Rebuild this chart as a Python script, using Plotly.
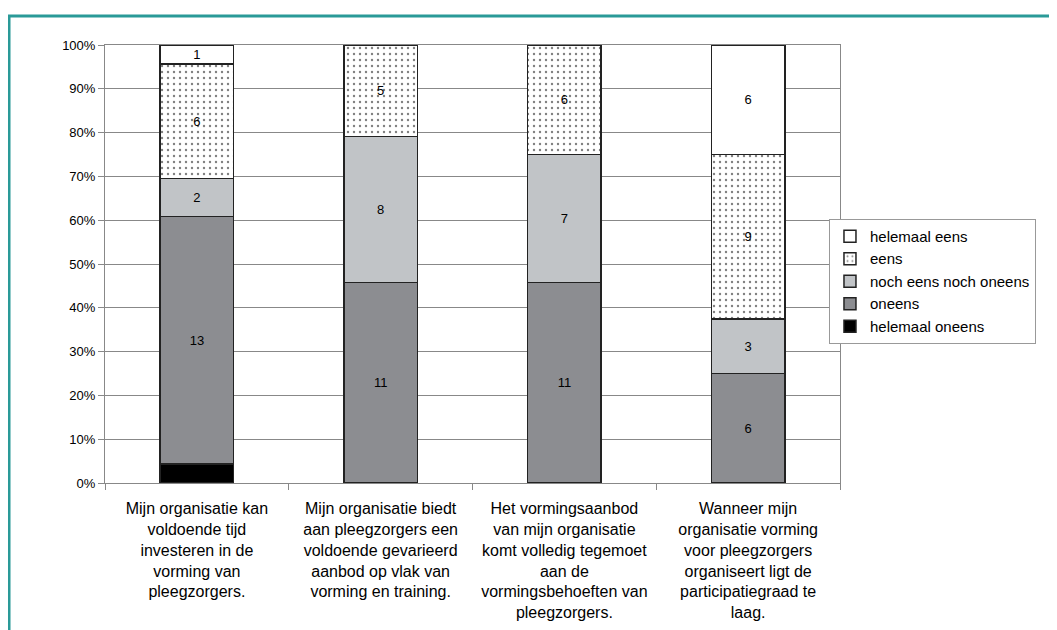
import plotly.graph_objects as go

# Statements (x-axis categories)
statements = [
    "Mijn organisatie kan<br>voldoende tijd<br>investeren in de<br>vorming van<br>pleegzorgers.",
    "Mijn organisatie biedt<br>aan pleegzorgers een<br>voldoende gevarieerd<br>aanbod op vlak van<br>vorming en training.",
    "Het vormingsaanbod<br>van mijn organisatie<br>komt volledig tegemoet<br>aan de<br>vormingsbehoeften van<br>pleegzorgers.",
    "Wanneer mijn<br>organisatie vorming<br>voor pleegzorgers<br>organiseert ligt de<br>participatiegraad te<br>laag.",
]

# Counts per answer category (bottom to top of the stack)
helemaal_oneens = [1, 0, 0, 0]
oneens = [13, 11, 11, 6]
noch = [2, 8, 7, 3]
eens = [6, 5, 6, 9]
helemaal_eens = [1, 0, 0, 6]

series = [
    ("helemaal oneens", helemaal_oneens, dict(color="#000000")),
    ("oneens", oneens, dict(color="#8c8d91")),
    ("noch eens noch oneens", noch, dict(color="#c1c4c7")),
    ("eens", eens, dict(color="#ffffff",
                        pattern=dict(shape=".", fgcolor="#000000", bgcolor="#ffffff",
                                     size=6, solidity=0.12))),
    ("helemaal eens", helemaal_eens, dict(color="#ffffff")),
]

fig = go.Figure()
for name, vals, style in series:
    fig.add_trace(go.Bar(
        name=name,
        x=statements,
        y=vals,
        text=[str(v) if v else "" for v in vals],
        textposition="inside",
        insidetextanchor="middle",
        textangle=0,
        constraintext="none",
        textfont=dict(color="#000000", size=13),
        marker=dict(line=dict(color="#222222", width=1.5), **style),
    ))

# page body has an 8px margin, so margins are 8px less than screen positions
fig.update_layout(
    barmode="stack",
    barnorm="percent",
    bargap=0.6,
    width=1057,
    height=630,
    margin=dict(l=97, r=225, t=37, b=155),
    paper_bgcolor="white",
    plot_bgcolor="white",
    font=dict(family="Liberation Sans, Arial, sans-serif", color="#000000", size=13),
    showlegend=True,
    legend=dict(
        x=0.985, y=0.603, xanchor="left", yanchor="top",
        traceorder="reversed",
        bordercolor="#999999", borderwidth=1,
        font=dict(size=15),
        itemwidth=30,
        tracegroupgap=0,
    ),
    shapes=[dict(
        type="rect", xref="paper", yref="paper",
        x0=-0.1306, x1=1.35, y0=-0.4, y1=1.066,
        line=dict(color="#2a9a98", width=3),
    )],
)

fig.update_xaxes(
    showline=True, linecolor="#888888", linewidth=1, mirror=True,
    ticks="outside", tickson="boundaries", ticklen=6, tickcolor="#888888",
    tickfont=dict(size=16),
    ticklabelstandoff=11,
    showgrid=False,
)
fig.update_yaxes(
    range=[0, 100], dtick=10, ticksuffix="%",
    showline=True, linecolor="#888888", linewidth=1, mirror=True,
    ticks="outside", ticklen=6, tickcolor="#888888",
    showgrid=True, gridcolor="#888888", gridwidth=1,
    tickfont=dict(size=13),
)

fig.write_html("out.html")
